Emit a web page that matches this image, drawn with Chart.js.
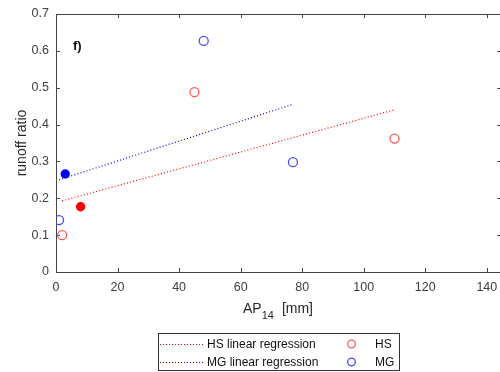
<!DOCTYPE html>
<html>
<head>
<meta charset="utf-8">
<script src="https://cdn.jsdelivr.net/npm/chart.js@4"></script>
<style>
  body { margin: 0; background: #fff; overflow: hidden; }
  #wrap { width: 508px; height: 372px; }
</style>
</head>
<body>
<div id="wrap"><canvas id="chart" width="508" height="372"></canvas></div>
<script>
// data (AP14 in mm vs runoff ratio)
const hsOpenX = [2, 45, 110];
const hsOpenY = [0.1, 0.488, 0.362];
const hsFilledX = [8];
const hsFilledY = [0.177];
const mgOpenX = [1, 48, 77];
const mgOpenY = [0.141, 0.627, 0.298];
const mgFilledX = [3];
const mgFilledY = [0.266];
// regression line end points
const hsFitX = [2, 110];
const hsFitY = [0.193, 0.44];
const mgFitX = [1, 77];
const mgFitY = [0.25, 0.455];
const xTicks = [0, 20, 40, 60, 80, 100, 120, 140];
const yTicks = [0, 0.1, 0.2, 0.3, 0.4, 0.5, 0.6, 0.7];

const FONT = '"Liberation Sans", Arial, sans-serif';
const AXIS = "#444";
const RED_OPEN = "#ff5a5a";
const BLUE_OPEN = "#4a4aff";

const pts = (xs, ys) => xs.map((v, i) => ({ x: v, y: ys[i] }));

// matlab-ish box, inward ticks, labels and legend
const decor = {
  id: "decor",
  beforeDatasetsDraw(chart) {
    const { ctx, chartArea: a, scales } = chart;
    ctx.save();
    ctx.strokeStyle = AXIS;
    ctx.lineWidth = 1;
    ctx.strokeRect(a.left + 0.5, a.top + 0.5, a.right - a.left - 1, a.bottom - a.top);
    ctx.beginPath();
    xTicks.forEach((v) => {
      const px = Math.round(scales.x.getPixelForValue(v)) + 0.5;
      ctx.moveTo(px, a.bottom); ctx.lineTo(px, a.bottom - 4);
      ctx.moveTo(px, a.top); ctx.lineTo(px, a.top + 4);
    });
    yTicks.forEach((v) => {
      const py = Math.round(scales.y.getPixelForValue(v)) + 0.5;
      ctx.moveTo(a.left, py); ctx.lineTo(a.left + 4, py);
      ctx.moveTo(a.right - 1, py); ctx.lineTo(a.right - 5, py);
    });
    ctx.stroke();
    ctx.restore();
  },
  afterDraw(chart) {
    const { ctx, chartArea: a } = chart;
    ctx.save();
    ctx.fillStyle = "#111";
    ctx.font = "bold 13px " + FONT;
    ctx.textBaseline = "alphabetic";
    ctx.fillText("f)", 73, 50);

    // y title
    ctx.fillStyle = "#262626";
    ctx.font = "14px " + FONT;
    ctx.save();
    ctx.translate(26, (a.top + a.bottom) / 2);
    ctx.rotate(-Math.PI / 2);
    ctx.textAlign = "center";
    ctx.fillText("runoff ratio", 0, 0);
    ctx.restore();

    // x title with subscript, centred on the full axes box
    const cx = 278;
    ctx.font = "14px " + FONT;
    const wAP = ctx.measureText("AP").width;
    const wMM = ctx.measureText("[mm]").width;
    ctx.font = "11px " + FONT;
    const wSub = ctx.measureText("14").width;
    const total = wAP + wSub + 8 + wMM;
    let sx = cx - total / 2;
    ctx.font = "14px " + FONT;
    ctx.fillText("AP", sx, 313);
    ctx.font = "11px " + FONT;
    ctx.fillText("14", sx + wAP, 319);
    ctx.font = "14px " + FONT;
    ctx.fillText("[mm]", sx + wAP + wSub + 8, 313);

    // legend
    ctx.strokeStyle = "#333";
    ctx.lineWidth = 1;
    ctx.fillStyle = "#fff";
    ctx.fillRect(158.5, 333.5, 241, 37);
    ctx.strokeRect(158.5, 333.5, 241, 37);
    const rows = [
      { y: 344, line: "#ff0000", label: "HS linear regression", mark: RED_OPEN, name: "HS" },
      { y: 362, line: "#0000ff", label: "MG linear regression", mark: BLUE_OPEN, name: "MG" },
    ];
    ctx.font = "12px " + FONT;
    ctx.textBaseline = "middle";
    rows.forEach((r) => {
      ctx.strokeStyle = r.line;
      ctx.setLineDash([1, 2]);
      ctx.beginPath();
      ctx.moveTo(160, r.y + 0.5);
      ctx.lineTo(205, r.y + 0.5);
      ctx.stroke();
      ctx.setLineDash([]);
      ctx.fillStyle = "#111";
      ctx.fillText(r.label, 207, r.y + 1);
      ctx.strokeStyle = r.mark;
      ctx.lineWidth = 1.3;
      ctx.beginPath();
      ctx.arc(351.5, r.y, 3.8, 0, Math.PI * 2);
      ctx.stroke();
      ctx.lineWidth = 1;
      ctx.fillText(r.name, 375, r.y + 1);
    });
    ctx.restore();
  },
};

const fitLine = (data, color) => ({
  data,
  showLine: true,
  borderColor: color,
  borderWidth: 1.2,
  borderDash: [1, 2.2],
  pointRadius: 0,
  order: 2,
});
const marks = (data, color, filled) => ({
  data,
  showLine: false,
  pointRadius: filled ? 4 : 4.5,
  pointBorderWidth: 1.3,
  pointBorderColor: color,
  pointBackgroundColor: filled ? color : "rgba(0,0,0,0)",
  order: 1,
});

new Chart(document.getElementById("chart"), {
  type: "scatter",
  data: {
    datasets: [
      fitLine(pts(hsFitX, hsFitY), "#ff0000"),
      fitLine(pts(mgFitX, mgFitY), "#0000ff"),
      marks(pts(hsOpenX, hsOpenY), RED_OPEN, false),
      marks(pts(hsFilledX, hsFilledY), "#ff0000", true),
      marks(pts(mgOpenX, mgOpenY), BLUE_OPEN, false),
      marks(pts(mgFilledX, mgFilledY), "#0000ee", true),
    ],
  },
  options: {
    responsive: false,
    animation: false,
    layout: { padding: { left: 0, top: 14, right: 1, bottom: 0 } },
    plugins: { legend: { display: false }, tooltip: { enabled: false } },
    scales: {
      x: {
        type: "linear",
        min: 0,
        max: 145,
        afterBuildTicks: (s) => { s.ticks = xTicks.map((v) => ({ value: v })); },
        afterFit: (s) => { s.height = 100; s.paddingLeft = 0; s.paddingRight = 0; },
        grid: { display: false, drawTicks: false },
        border: { display: false },
        ticks: { padding: 8, color: "#404040", font: { family: FONT, size: 12.5 }, maxRotation: 0 },
      },
      y: {
        type: "linear",
        min: 0,
        max: 0.7,
        afterBuildTicks: (s) => { s.ticks = yTicks.map((v) => ({ value: v })); },
        afterFit: (s) => { s.width = 56; s.paddingTop = 0; s.paddingBottom = 0; },
        grid: { display: false, drawTicks: false },
        border: { display: false },
        ticks: { padding: 7, color: "#404040", font: { family: FONT, size: 12.5 } },
      },
    },
  },
  plugins: [decor],
});
</script>
</body>
</html>
